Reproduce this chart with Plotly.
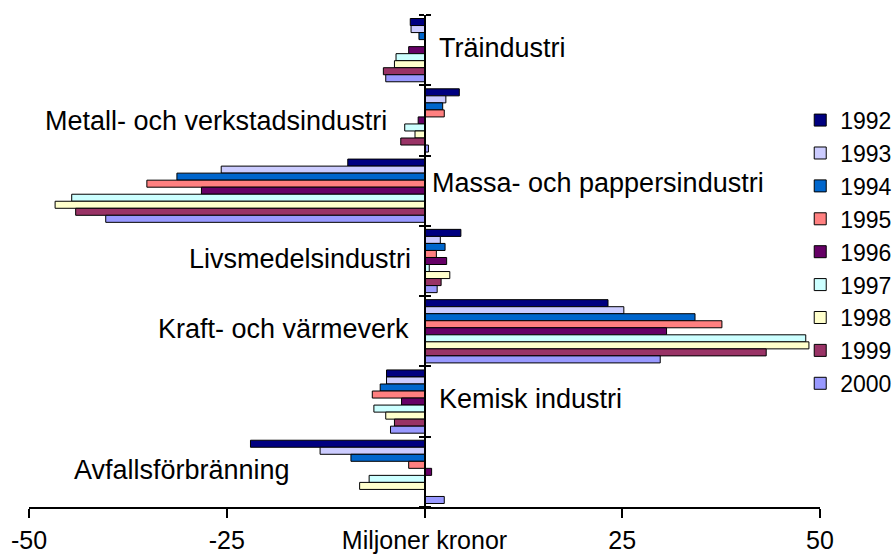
import plotly.graph_objects as go

# %% data
kategorier = ['Träindustri', 'Metall- och verkstadsindustri', 'Massa- och pappersindustri',
              'Livsmedelsindustri', 'Kraft- och värmeverk', 'Kemisk industri', 'Avfallsförbränning']
ar = ['1992', '1993', '1994', '1995', '1996', '1997', '1998', '1999', '2000']

v1992 = [-1.8, 4.4, -9.7, 4.6, 23.2, -4.8, -22.0]
v1993 = [-1.7, 2.7, -25.7, 2.0, 25.2, -4.8, -13.2]
v1994 = [-0.7, 2.3, -31.3, 2.6, 34.2, -5.6, -9.3]
v1995 = [0.0, 2.5, -35.1, 1.5, 37.6, -6.6, -2.0]
v1996 = [-2.0, -0.8, -28.2, 2.8, 30.6, -2.9, 0.9]
v1997 = [-3.6, -2.5, -44.6, 0.6, 48.2, -6.4, -7.0]
v1998 = [-3.8, -1.2, -46.7, 3.2, 48.6, -4.9, -8.2]
v1999 = [-5.2, -3.0, -44.1, 2.1, 43.2, -3.8, 0.0]
v2000 = [-4.9, 0.5, -40.3, 1.6, 29.8, -4.3, 2.5]
serier = [v1992, v1993, v1994, v1995, v1996, v1997, v1998, v1999, v2000]

x_ticks = [-50, -25, 0, 25, 50]
x_ticktext = ['-50', '-25', 'Miljoner kronor', '25', '50']

# %% style
FARGER = ['#000080', '#CCCCFF', '#0066CC', '#FF8080', '#660066',
          '#CCFFFF', '#FFFFCC', '#993366', '#9999FF']
FONT = 'Liberation Sans, Arial, sans-serif'

# etikettplacering: (xanchor, xshift, yshift)
etikett_pos = [('left', 12, 2), ('right', -36, -1), ('left', 5, 8), ('right', -12, 2),
               ('right', -14, 2), ('left', 12, 3), ('right', -133, 2)]

pos = list(range(len(kategorier)))

fig = go.Figure()
for namn, vals, col in zip(ar, serier, FARGER):
    fig.add_trace(go.Bar(
        x=vals, y=pos, orientation='h', name=namn,
        marker=dict(color=col, line=dict(color='#000000', width=1))))

for i, (kat, (xa, xs, ys)) in enumerate(zip(kategorier, etikett_pos)):
    fig.add_annotation(x=0, y=i, xref='x', yref='y', text=kat, showarrow=False,
                       xanchor=xa, yanchor='middle', xshift=xs, yshift=ys,
                       font=dict(family=FONT, size=27, color='#000000'))

grans = [p - 0.5 for p in pos] + [pos[-1] + 0.5]

fig.update_layout(
    width=893, height=557,
    margin=dict(l=29, r=73, t=15, b=50, autoexpand=False),
    paper_bgcolor='white', plot_bgcolor='white',
    barmode='group', bargap=0.1, bargroupgap=0,
    font=dict(family=FONT, size=24, color='#000000'),
    showlegend=True,
    legend=dict(x=0.975, y=0.83, xanchor='left', yanchor='top',
                bgcolor='rgba(0,0,0,0)', font=dict(size=23),
                traceorder='normal'),
    xaxis=dict(range=[-50, 50], tickvals=x_ticks, ticktext=x_ticktext,
               showline=True, linecolor='#000000', linewidth=2,
               ticks='outside', ticklen=9, tickwidth=2, tickcolor='#000000',
               ticklabelstandoff=1,
               showgrid=False, zeroline=False, tickfont=dict(size=25),
               fixedrange=True),
    yaxis=dict(range=[len(kategorier) - 0.5, -0.5], anchor='free', position=0.5,
               showline=True, linecolor='#000000', linewidth=2,
               tickvals=grans, ticks='outside', ticklen=5, tickwidth=2,
               tickcolor='#000000', showticklabels=False,
               minor=dict(tickvals=grans, ticks='inside', ticklen=5, tickwidth=2,
                          tickcolor='#000000'),
               showgrid=False, zeroline=False),
)

# ta bort sidans standardmarginal så att figuren fyller fönstret exakt
fig.write_html('out.html', config={'displayModeBar': False},
               post_script="document.body.style.margin='0';")
